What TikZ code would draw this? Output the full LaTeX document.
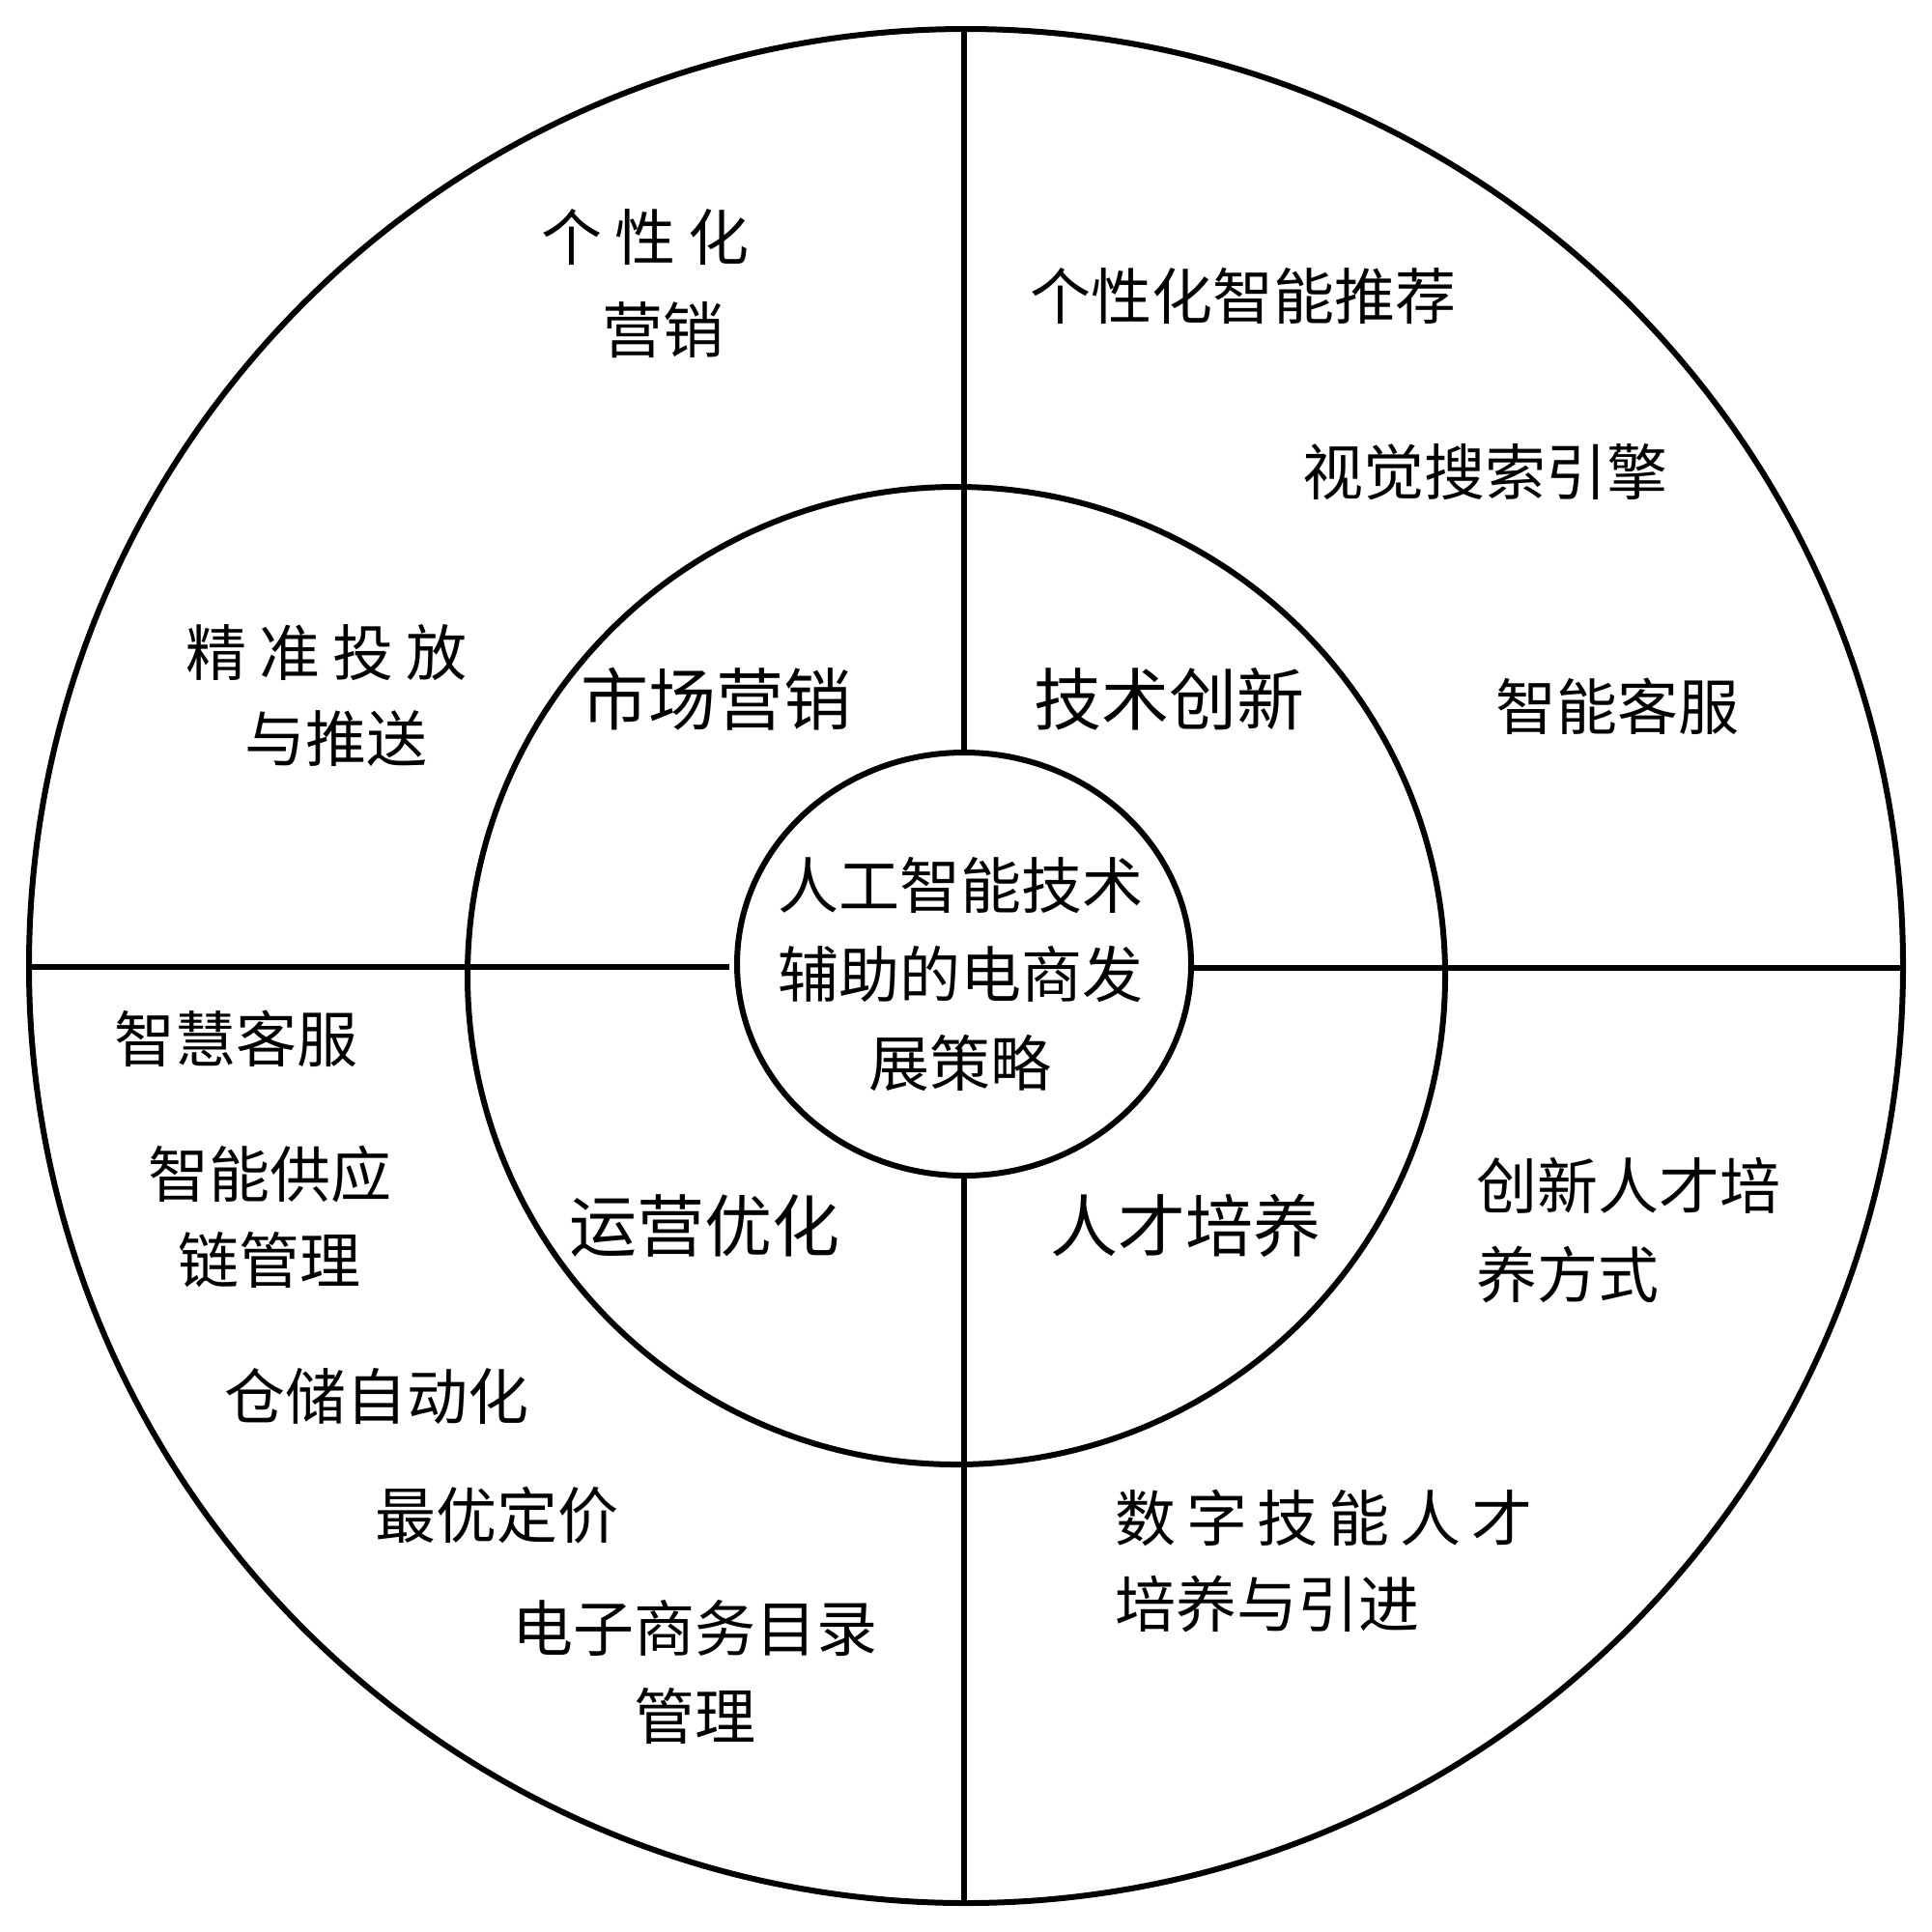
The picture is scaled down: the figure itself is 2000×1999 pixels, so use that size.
\documentclass[tikz,border=0pt]{standalone}
\usepackage{fontspec}
\setmainfont{Noto Sans CJK SC}
\begin{document}
\begin{tikzpicture}[x=0.5pt,y=-0.5pt,
  ring/.style={line width=3pt},
  spoke/.style={line width=2.6pt},
  lbl/.style={inner sep=0pt,align=center,font=\fontsize{31.5}{45.5}\selectfont},
  lblL/.style={inner sep=0pt,align=left,anchor=west,font=\fontsize{31.5}{45.5}\selectfont},
  mid/.style={inner sep=0pt,font=\fontsize{35}{42}\selectfont}]
\useasboundingbox (0,0) rectangle (2000,1999);
% circles
\draw[ring] (1000,1000) circle [radius=970];
\draw[ring] (990,1010) circle [radius=506];
\draw[ring] (998,998) ellipse [x radius=235, y radius=219];
% spoke end points
\coordinate (topO) at (998,30);
\coordinate (topI) at (998,779);
\coordinate (botI) at (998,1217);
\coordinate (botO) at (998,1970);
\coordinate (leftO) at (30,1001);
\coordinate (leftI) at (755,1001);
\coordinate (rightI) at (1233,1002);
\coordinate (rightO) at (1970,1002);
\draw[spoke] (topO) -- (topI);
\draw[spoke] (botI) -- (botO);
\draw[spoke] (leftO) -- (leftI);
\draw[spoke] (rightI) -- (rightO);
% centre
\node[lbl,font=\fontsize{31.5}{46}\selectfont] (core) at (994,1008) {人工智能技术\\辅助的电商发\\展策略};
% middle ring
\node[mid] (m1) at (741,724) {市场营销};
\node[mid] (m2) at (1210,724) {技术创新};
\node[mid] (m3) at (729,1269) {运营优化};
\node[mid] (m4) at (1227,1269) {人才培养};
% outer ring
\node[lbl,font=\fontsize{31.5}{48}\selectfont] (o1) at (668,294) {个\hspace{6.5pt}性\hspace{6.5pt}化\\\hspace{18pt}营销};
\node[lbl] (o2) at (1287,306) {个性化智能推荐};
\node[lbl] (o3) at (1537,489) {视觉搜索引擎};
\node[lbl] (o4) at (1674,731) {智能客服};
\node[lbl,font=\fontsize{31.5}{44.5}\selectfont] (o5) at (338,720) {精\hspace{6.5pt}准\hspace{6.5pt}投\hspace{6.5pt}放\\\hspace{10pt}与推送};
\node[lbl] (o6) at (244,1075) {智慧客服};
\node[lbl,font=\fontsize{31.5}{44.5}\selectfont] (o7) at (279,1260) {智能供应\\链管理};
\node[lbl] (o8) at (390,1445) {仓储自动化};
\node[lbl] (o9) at (514,1569) {最优定价};
\node[lbl] (o10) at (719,1731) {电子商务目录\\管理};
\node[lblL,font=\fontsize{31.5}{46}\selectfont] (o11) at (1528,1274) {创新人才培\\养方式};
\node[lblL,font=\fontsize{31.5}{44.5}\selectfont] (o12) at (1154,1616) {数\hspace{5.4pt}字\hspace{5.4pt}技\hspace{5.4pt}能\hspace{5.4pt}人\hspace{5.4pt}才\\培养与引进};
\end{tikzpicture}
\end{document}
